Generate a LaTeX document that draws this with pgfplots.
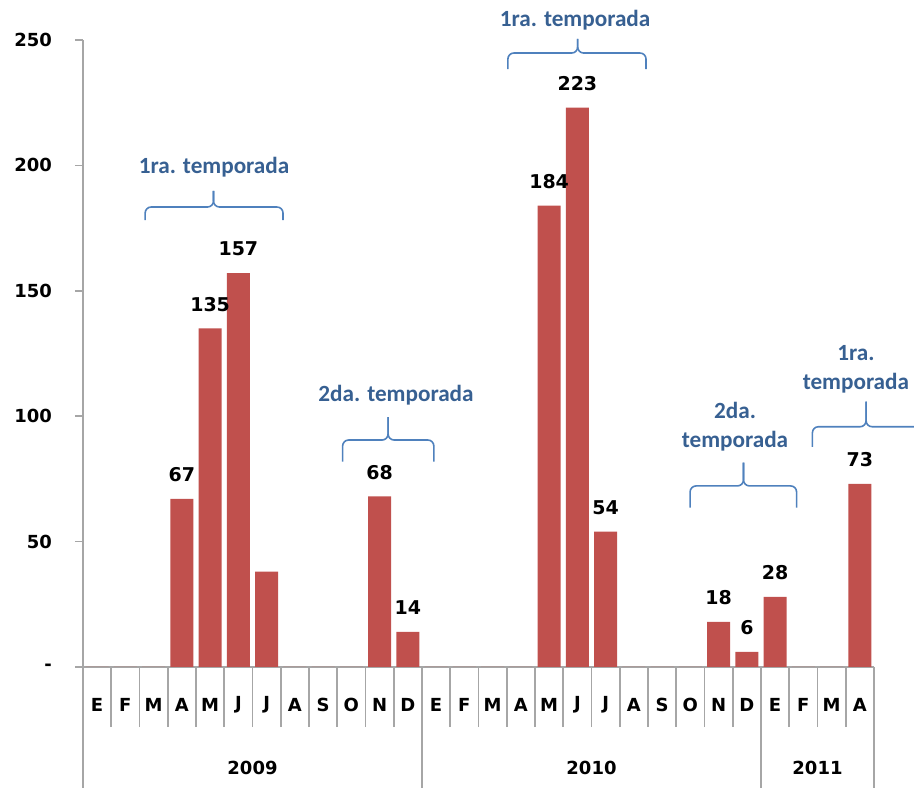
\documentclass[border=0pt]{standalone}
\usepackage{pgfplots}
\pgfplotsset{compat=1.18}
\usepackage{pgfplotstable}
\usepackage{fontspec}
\setmainfont{Carlito}
\newfontfamily\numfont{DejaVu Sans}

\definecolor{barra}{HTML}{C0504D}
\definecolor{llavecol}{HTML}{4F81BD}
\definecolor{textoazul}{HTML}{376092}
\definecolor{ejes}{HTML}{A6A6A6}

% casos por mes, ene-2009 a abr-2011
\pgfplotstableread{
idx val lbl
0  0   {}
1  0   {}
2  0   {}
3  67  67
4  135 135
5  157 157
6  38  {}
7  0   {}
8  0   {}
9  0   {}
10 68  68
11 14  14
12 0   {}
13 0   {}
14 0   {}
15 0   {}
16 184 184
17 223 223
18 54  54
19 0   {}
20 0   {}
21 0   {}
22 18  18
23 6   6
24 28  28
25 0   {}
26 0   {}
27 73  73
}\casos

\newcommand{\llave}[6]{%
  \draw[llavecol, line width=0.8pt, rounded corners=3pt]
    (axis cs:#1,#4) |- (axis cs:#3,#5) -- (axis cs:#3,#6);
  \draw[llavecol, line width=0.8pt, rounded corners=3pt]
    (axis cs:#2,#4) |- (axis cs:#3,#5) -- (axis cs:#3,#6);}

\begin{document}
\begin{tikzpicture}
\begin{axis}[
  width=395.5pt, height=313.5pt, scale only axis,
  clip=false,
  axis lines=left,
  axis line style={-, ejes, line width=0.8pt},
  xmin=-0.5, xmax=27.5,
  ymin=0, ymax=250,
  ytick={0,50,...,250},
  yticklabels={-\hspace{9pt},50,100,150,200,250},
  xtick={0,...,27},
  xticklabels={E,F,M,A,M,J,J,A,S,O,N,D,E,F,M,A,M,J,J,A,S,O,N,D,E,F,M,A},
  minor xtick={-0.5,0.5,...,27.5},
  tick align=outside,
  major tick length=4pt,
  minor tick length=30pt,
  ytick style={ejes, line width=0.8pt},
  xtick style={draw=none},
  minor x tick style={draw=ejes, line width=0.8pt},
  ticklabel style={font=\numfont\fontsize{9}{11}\selectfont\bfseries},
  yticklabel style={xshift=-8pt},
  xticklabel style={anchor=center, yshift=-15pt},
  ybar, bar width=0.81, bar shift=0pt,
  nodes near coords,
  point meta=explicit symbolic,
  nodes near coords style={font=\numfont\fontsize{9.5}{11}\selectfont\bfseries, black, anchor=south, yshift=5pt},
]
\addplot[fill=barra, draw=none] table[x=idx, y=val, meta=lbl] {\casos};

% separadores de año y etiquetas
\draw[ejes, line width=0.8pt] (axis cs:-0.5,0) -- ++(0pt,-62pt);
\draw[ejes, line width=0.8pt] (axis cs:11.5,0) -- ++(0pt,-62pt);
\draw[ejes, line width=0.8pt] (axis cs:23.5,0) -- ++(0pt,-62pt);
\draw[ejes, line width=0.8pt] (axis cs:27.5,0) -- ++(0pt,-62pt);
\tikzset{anio/.style={font=\numfont\fontsize{9}{11}\selectfont\bfseries}}
\node[anio] at ([yshift=-50.5pt]axis cs:5.5,0) {2009};
\node[anio] at ([yshift=-50.5pt]axis cs:17.5,0) {2010};
\node[anio] at ([yshift=-50.5pt]axis cs:25.5,0) {2011};

% temporadas
\llave{1.70}{6.58}{4.12}{178.2}{183.4}{189.8}
\llave{8.69}{11.92}{10.30}{81.9}{90.5}{99.6}
\llave{14.54}{19.43}{17.01}{238.4}{244.8}{250.4}
\llave{20.99}{24.76}{22.88}{63.5}{72.2}{81.5}
\llave{25.32}{29.13}{27.22}{87.8}{95.8}{105.8}
\tikzset{temp/.style={textoazul, font=\fontsize{11.6}{14.5}\selectfont\bfseries, align=center}}
\node[temp] at (axis cs:4.14,199.4) {1ra. temporada};
\node[temp] at (axis cs:10.58,108.5) {2da. temporada};
\node[temp] at (axis cs:16.92,258) {1ra. temporada};
\node[temp] at (axis cs:22.58,95.7) {2da.\\temporada};
\node[temp] at (axis cs:26.86,118.8) {1ra.\\temporada};

\coordinate (bl) at (axis cs:-3.438,-47.85);
\coordinate (tr) at (axis cs:28.916,265.95);
\end{axis}
\pgfresetboundingbox
\useasboundingbox (bl) rectangle (tr);
\end{tikzpicture}
\end{document}
